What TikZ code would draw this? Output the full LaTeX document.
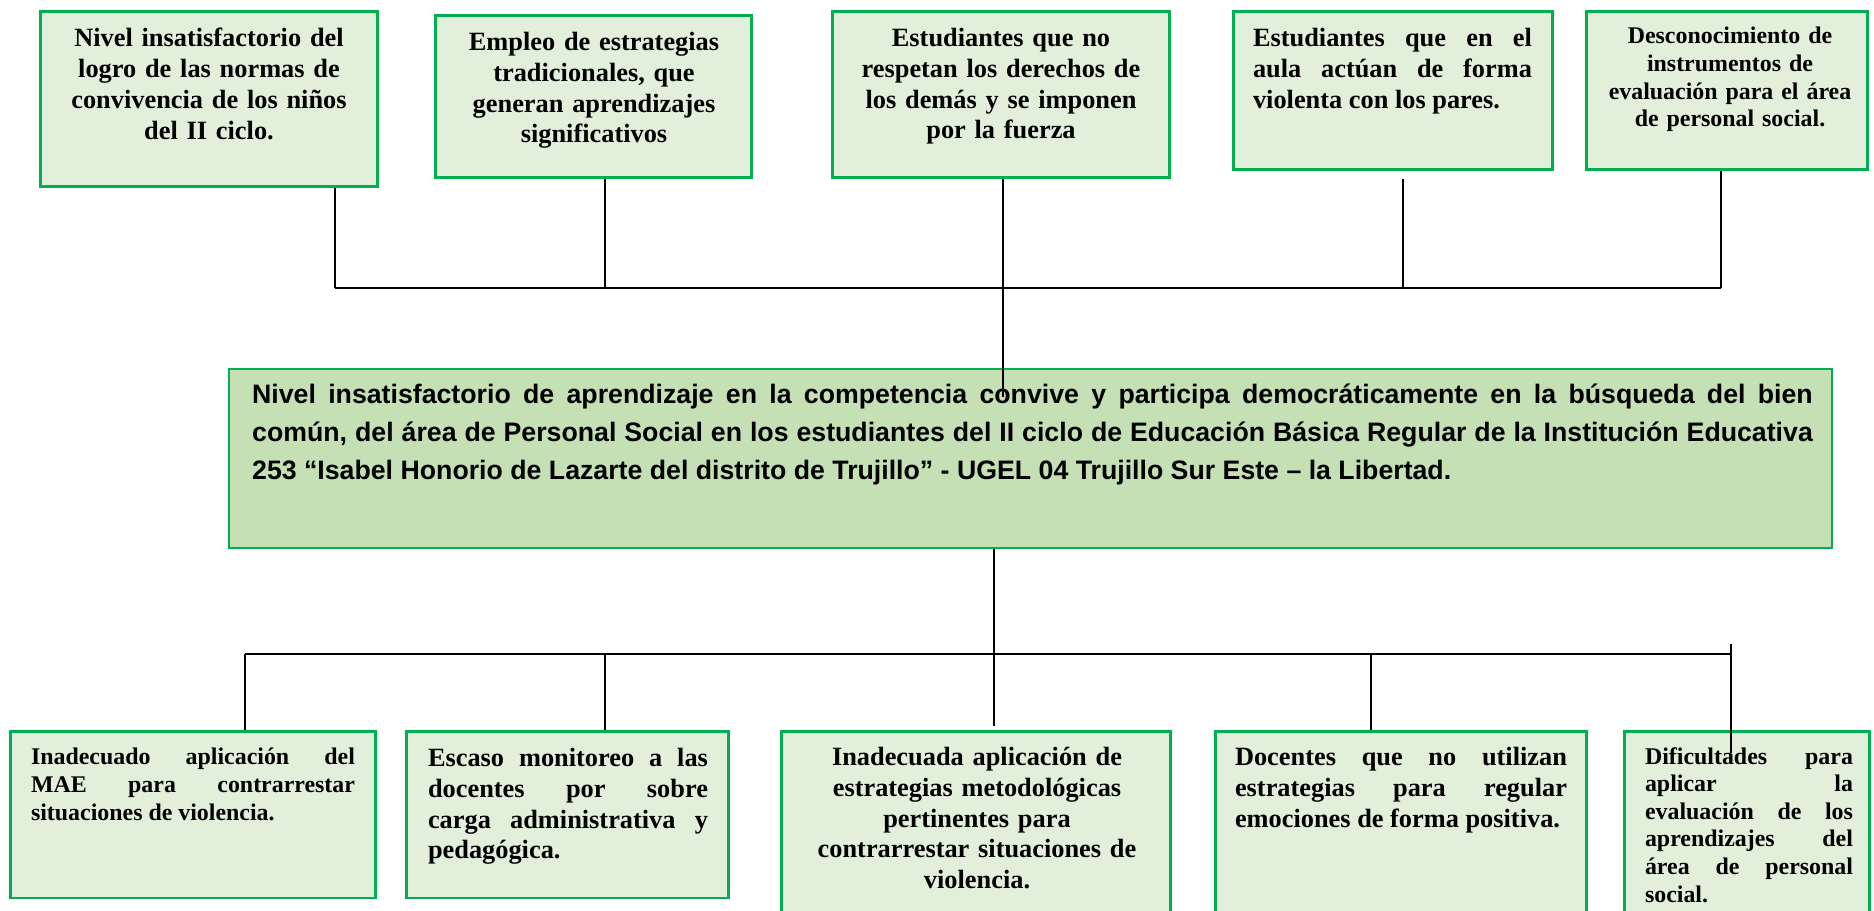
\documentclass[tikz,border=0pt]{standalone}
\usepackage{fontspec}
\setmainfont{Liberation Serif}
\newfontfamily\probfont{Liberation Sans}
\usepackage{xcolor}
\usetikzlibrary{positioning}
\definecolor{causeline}{HTML}{00B050}
\definecolor{causefill}{HTML}{E2EFDA}
\definecolor{probfill}{HTML}{C5E0B4}
\tolerance=10000
\hbadness=10000
\hyphenpenalty=10000

\begin{document}
\begin{tikzpicture}[
  x=0.02cm, y=-0.02cm,
  every node/.style={inner sep=0pt},
  cause/.style={draw=causeline, line width=1.7pt, fill=causefill},
  problem/.style={draw=causeline, line width=1.4pt, fill=probfill},
  bigtxt/.style={anchor=north, font=\bfseries\fontsize{15pt}{17.5pt}\selectfont},
  smalltxt/.style={anchor=north, font=\bfseries\fontsize{13.6pt}{15.7pt}\selectfont},
  probtxt/.style={anchor=north, align=justify, font=\probfont\bfseries\fontsize{15.2pt}{21.6pt}\selectfont},
  link/.style={draw=black, line width=0.9pt}
]
\useasboundingbox (0,0) rectangle (1874,910);

% efectos
\node[cause, minimum width=6.76cm, minimum height=3.52cm] (t1) at (209,99) {};
\node[cause, minimum width=6.34cm, minimum height=3.26cm] (t2) at (593.5,96.5) {};
\node[cause, minimum width=6.76cm, minimum height=3.34cm] (t3) at (1001,94.5) {};
\node[cause, minimum width=6.4cm, minimum height=3.18cm] (t4) at (1393,90.5) {};
\node[cause, minimum width=5.64cm, minimum height=3.18cm] (t5) at (1727,90.5) {};

\node[bigtxt, text width=6.2cm, align=center] (t1txt) at (209,28) {Nivel insatisfactorio del\\ logro de las normas de\\ convivencia de los niños\\ del II ciclo.};
\node[bigtxt, text width=5.8cm, align=center] (t2txt) at (594,32) {Empleo de estrategias\\ tradicionales, que\\ generan aprendizajes\\ significativos};
\node[bigtxt, text width=6.4cm, align=center] (t3txt) at (1001,28) {Estudiantes que no\\ respetan los derechos de\\ los demás y se imponen\\ por la fuerza};
\node[bigtxt, text width=5.58cm, align=justify] (t4txt) at (1392.5,28) {Estudiantes que en el\linebreak aula actúan de forma\linebreak violenta con los pares.};
\node[smalltxt, text width=5cm, align=center] (t5txt) at (1730,27) {Desconocimiento de\\ instrumentos de\\ evaluación para el área\\ de personal social.};

% problema
\node[problem, minimum width=32.06cm, minimum height=3.58cm] (prob) at (1030.5,458.5) {};
\node[probtxt, text width=31.22cm] (probtxt) at (1032.5,384) {Nivel insatisfactorio de aprendizaje en la competencia convive y participa democráticamente en la búsqueda del bien\linebreak común, del área de Personal Social en los estudiantes del II ciclo de Educación Básica Regular de la Institución Educativa\linebreak 253 “Isabel Honorio de Lazarte del distrito de Trujillo” - UGEL 04 Trujillo Sur Este – la Libertad.};

% causas
\node[cause, minimum width=7.32cm, minimum height=3.34cm] (b1) at (193,814.5) {};
\node[cause, minimum width=6.46cm, minimum height=3.34cm] (b2) at (567.5,814.5) {};
\node[cause, minimum width=7.8cm, minimum height=3.98cm] (b3) at (976,830.5) {};
\node[cause, minimum width=7.44cm, minimum height=3.98cm] (b4) at (1401,830.5) {};
\node[cause, minimum width=4.92cm, minimum height=3.98cm] (b5) at (1747,830.5) {};

\node[smalltxt, text width=6.48cm, align=justify] (b1txt) at (193,748) {Inadecuado aplicación del\linebreak MAE para contrarrestar\linebreak situaciones de violencia.};
\node[bigtxt, text width=5.6cm, align=justify] (b2txt) at (568,748) {Escaso monitoreo a las\linebreak docentes por sobre\linebreak carga administrativa y\linebreak pedagógica.};
\node[bigtxt, text width=7.4cm, align=center] (b3txt) at (977,747) {Inadecuada aplicación de\\ estrategias metodológicas\\ pertinentes para\\ contrarrestar situaciones de\\ violencia.};
\node[bigtxt, text width=6.64cm, align=justify] (b4txt) at (1401,747) {Docentes que no utilizan\linebreak estrategias para regular\linebreak emociones de forma positiva.};
\node[smalltxt, text width=4.16cm, align=justify] (b5txt) at (1749,747) {Dificultades para\linebreak aplicar la\linebreak evaluación de los\linebreak aprendizajes del\linebreak área de personal\linebreak social.};

% conectores superiores
\coordinate (topW) at (335,288);
\coordinate (topE) at (1721,288);
\coordinate (probIn) at (1003,397);
\draw[link] (topW) -- (topE);
\foreach \n/\x in {t1/335,t2/605,t5/1721}
  \draw[link] (\n.south -| \x,0) -- (topW -| \x,0);
\draw[link, shorten <=0.16cm] (t4.south -| 1403,0) -- (topW -| 1403,0);
\draw[link] (t3.south -| 1003,0) -- (probIn);

% conectores inferiores
\coordinate (botW) at (245,654);
\coordinate (botE) at (1731,654);
\coordinate (b3In) at (994,726);
\coordinate (b5Top) at (1731,644);
\coordinate (b5In) at (1731,753);
\draw[link] (botW) -- (botE);
\draw[link] (prob.south -| b3In) -- (b3In);
\foreach \n/\x in {b1/245,b2/605,b4/1371}
  \draw[link] (botW -| \x,0) -- (\n.north -| \x,0);
\draw[link] (b5Top) -- (b5In);
\end{tikzpicture}
\end{document}
